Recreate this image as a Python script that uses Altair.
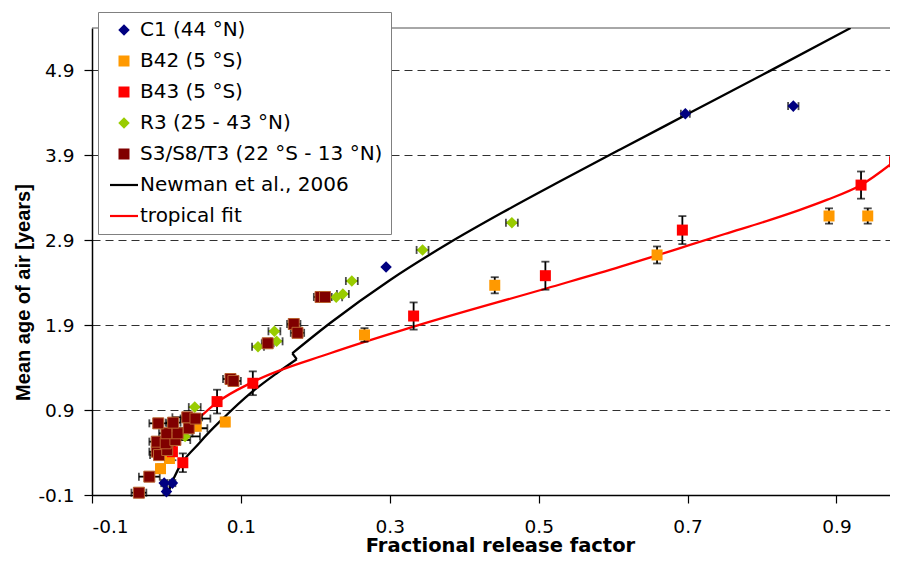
import altair as alt
import pandas as pd

# ---------------- data ----------------
series_names = ["C1 (44 °N)", "B42 (5 °S)", "B43 (5 °S)", "R3 (25 - 43 °N)",
                "S3/S8/T3 (22 °S - 13 °N)", "Newman et al., 2006", "tropical fit"]
series_colors = ["#000080", "#FF9900", "#FF0000", "#99CC00", "#800000", "#000000", "#FF0000"]

c1_x = [0.000, 0.008, -0.003, 0.295, 0.697, 0.842]
c1_y = [-0.06, 0.04, 0.04, 2.585, 4.39, 4.48]
c1_xerr = [0.004, 0.004, 0.004, 0.0, 0.006, 0.007]

b42_x = [-0.008, 0.004, 0.040, 0.079, 0.266, 0.441, 0.659, 0.890, 0.942]
b42_y = [0.21, 0.33, 0.71, 0.76, 1.785, 2.37, 2.727, 3.186, 3.186]
b42_yerr = [0.05, 0.05, 0.05, 0.05, 0.08, 0.095, 0.10, 0.09, 0.09]

b43_x = [0.008, 0.022, 0.068, 0.116, 0.332, 0.509, 0.693, 0.933, 0.978]
b43_y = [0.41, 0.28, 1.00, 1.216, 2.008, 2.483, 3.02, 3.55, 3.826]
b43_yerr = [0.10, 0.11, 0.14, 0.14, 0.16, 0.165, 0.165, 0.16, 0.16]

r3_x = [0.025, 0.038, 0.123, 0.145, 0.148, 0.228, 0.237, 0.249, 0.344, 0.464]
r3_y = [0.59, 0.935, 1.647, 1.828, 1.71, 2.229, 2.267, 2.42, 2.786, 3.107]
r3_xerr = [0.02, 0.008, 0.008, 0.008, 0.008, 0.008, 0.008, 0.008, 0.008, 0.008]

s3_x = [-0.037, -0.023, -0.013, -0.010, 0.001, -0.013, -0.001, 0.012, 0.000, 0.015, 0.030,
        -0.011, 0.009, 0.028, 0.039, 0.086, 0.090, 0.136, 0.171, 0.176, 0.207, 0.213]
s3_y = [-0.073, 0.116, 0.41, 0.37, 0.43, 0.528, 0.509, 0.548, 0.627, 0.627, 0.686,
        0.744, 0.752, 0.815, 0.80, 1.266, 1.243, 1.687, 1.914, 1.81, 2.232, 2.232]
s3_xerr = [0.01, 0.014, 0.01, 0.012, 0.01, 0.01, 0.012, 0.02, 0.01, 0.02, 0.025,
           0.012, 0.01, 0.02, 0.02, 0.01, 0.01, 0.008, 0.009, 0.009, 0.009, 0.009]

# Newman et al. (2006) curve: lower branch, small jump back, upper branch
newman_low_x = [0.002, 0.010, 0.046, 0.077, 0.113, 0.149, 0.175]
newman_low_y = [-0.08, 0.10, 0.53, 0.81, 1.10, 1.34, 1.50]
newman_up_x = [0.169, 0.220, 0.300, 0.380, 0.450, 0.530, 0.610, 0.700, 0.810, 0.919]
newman_up_y = [1.569, 1.926, 2.430, 2.870, 3.220, 3.600, 3.972, 4.386, 4.892, 5.400]

trop_x = [0.008, 0.027, 0.048, 0.068, 0.117, 0.220, 0.332, 0.511, 0.610, 0.659, 0.693,
          0.750, 0.811, 0.850, 0.887, 0.933, 0.978]
trop_y = [0.48, 0.66, 0.84, 0.99, 1.235, 1.569, 1.882, 2.335, 2.589, 2.723, 2.817,
          2.974, 3.14, 3.255, 3.375, 3.55, 3.83]

x_ticks = [-0.1, 0.1, 0.3, 0.5, 0.7, 0.9]
y_ticks = [-0.1, 0.9, 1.9, 2.9, 3.9, 4.9]
x_domain = [-0.1, 0.9719]
y_domain = [-0.1, 5.4]

# ---------------- tables ----------------
rows = []
def add(name, xs, ys, xerr=None, yerr=None):
    for i, (a, b) in enumerate(zip(xs, ys)):
        rows.append({"series": name, "x": a, "y": b,
                     "xerr": xerr[i] if xerr else 0.0,
                     "yerr": yerr[i] if yerr else 0.0})

add(series_names[0], c1_x, c1_y, xerr=c1_xerr)
add(series_names[1], b42_x, b42_y, yerr=b42_yerr)
add(series_names[2], b43_x, b43_y, yerr=b43_yerr)
add(series_names[3], r3_x, r3_y, xerr=r3_xerr)
add(series_names[4], s3_x, s3_y, xerr=s3_xerr)
pts = pd.DataFrame(rows)
pts["order"] = range(len(pts))
pts["x_lo"] = pts["x"] - pts["xerr"]
pts["x_hi"] = pts["x"] + pts["xerr"]
pts["y_lo"] = pts["y"] - pts["yerr"]
pts["y_hi"] = pts["y"] + pts["yerr"]
xe = pts[pts["xerr"] > 0]
ye = pts[pts["yerr"] > 0]

def seg(name, s, xs, ys):
    return pd.DataFrame({"series": name, "seg": s, "x": xs, "y": ys, "i": range(len(xs))})

lines = pd.concat([
    seg(series_names[5], "n1", newman_low_x, newman_low_y),
    seg(series_names[5], "n2", [newman_low_x[-1], newman_up_x[0]], [newman_low_y[-1], newman_up_y[0]]),
    seg(series_names[5], "n3", newman_up_x, newman_up_y),
    seg(series_names[6], "t1", trop_x, trop_y),
])

FONT = "DejaVu Sans"
ARIAL = "Liberation Sans"
xscale = alt.Scale(domain=x_domain, nice=False, zero=False)
yscale = alt.Scale(domain=y_domain, nice=False, zero=False)
lab = "replace(format(datum.value, '.1f'), '\u2212', '-')"
xaxis = alt.Axis(values=x_ticks, labelExpr=lab, title="Fractional release factor", grid=False,
                 labelPadding=14, titlePadding=1, titleFontSize=19.5, titleFont=FONT, titleX=408)
yaxis = alt.Axis(values=y_ticks, labelExpr=lab, title="Mean age of air [years]", grid=True,
                 labelPadding=10, titlePadding=4, titleFontSize=20, titleFont=ARIAL, titleY=264)

def X(f="x"):
    return alt.X(f + ":Q", scale=xscale, axis=xaxis)

def Y(f="y"):
    return alt.Y(f + ":Q", scale=yscale, axis=yaxis)

LINE_SYM = "M-2.55,-0.2H2.55V0.2H-2.55Z"
DIAMOND = "M0,-1.05L1.05,0L0,1.05L-1.05,0Z"
shape_range = [DIAMOND, "square", "square", DIAMOND, "square", LINE_SYM, LINE_SYM]
legend = alt.Legend(
    title=None, orient="none", legendX=6, legendY=-16,
    fillColor="white", strokeColor="#808080", padding=8,
    labelFont=FONT, labelFontSize=20, labelColor="black", labelOffset=6, labelLimit=0,
    symbolSize=121, symbolOffset=8, rowPadding=11, symbolOpacity=1, symbolStrokeWidth=0,
)
color = alt.Color("series:N", scale=alt.Scale(domain=series_names, range=series_colors), legend=legend)
shape = alt.Shape("series:N", scale=alt.Scale(domain=series_names, range=shape_range), legend=legend)

top_border = alt.Chart(pd.DataFrame({"y": [y_domain[1]]})).mark_rule(
    color="#505050", strokeWidth=1).encode(y=Y())

EB = dict(color="black")
xbar = alt.Chart(xe).mark_rule(strokeWidth=1.8, **EB).encode(x=X("x_lo"), x2="x_hi", y=Y())
xcap_lo = alt.Chart(xe).mark_tick(orient="vertical", size=8, thickness=1.8, **EB).encode(x=X("x_lo"), y=Y())
xcap_hi = alt.Chart(xe).mark_tick(orient="vertical", size=8, thickness=1.8, **EB).encode(x=X("x_hi"), y=Y())
ybar = alt.Chart(ye).mark_rule(strokeWidth=1.8, **EB).encode(x=X(), y=Y("y_lo"), y2="y_hi")
ycap_lo = alt.Chart(ye).mark_tick(orient="horizontal", size=8, thickness=1.8, **EB).encode(x=X(), y=Y("y_lo"))
ycap_hi = alt.Chart(ye).mark_tick(orient="horizontal", size=8, thickness=1.8, **EB).encode(x=X(), y=Y("y_hi"))

points = alt.Chart(pts).mark_point(filled=True, opacity=1, size=121, strokeWidth=1).encode(
    x=X(), y=Y(), color=color, shape=shape,
    stroke=alt.condition(f"datum.series == '{series_names[4]}'", alt.value("#B8612E"), alt.value("transparent")),
    order=alt.Order("order:Q"),
)

line_layer = alt.Chart(lines).mark_line(strokeWidth=2.3, clip=True, interpolate="monotone").encode(
    x=X(), y=Y(), color=color, detail="seg:N", order=alt.Order("i:Q"))

chart = alt.layer(
    top_border, line_layer, xbar, xcap_lo, xcap_hi, ybar, ycap_lo, ycap_hi, points
).properties(
    width=798, height=467,
    autosize=alt.AutoSizeParams(type="none"),
    padding={"left": 84, "top": 20, "right": 0, "bottom": 61},
).configure_view(stroke=None).configure_axis(
    labelFont=FONT, titleFont=FONT, labelColor="black", titleColor="black",
    domainColor="black", domainWidth=1.5, tickColor="black", tickWidth=1.2, tickSize=8,
    labelFontSize=18.5, titleFontWeight="bold",
    gridColor="#303030", gridDash=[8, 5], gridWidth=1,
)

chart.save("out.html", embed_options={"renderer": "svg", "actions": False})
